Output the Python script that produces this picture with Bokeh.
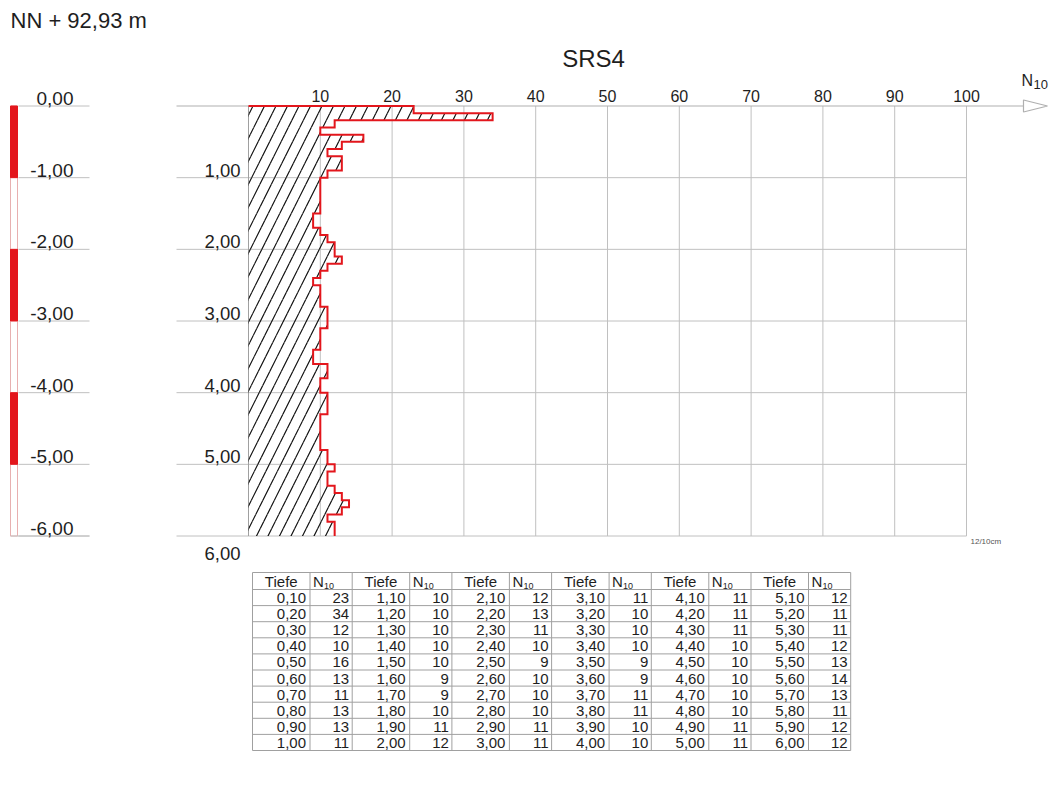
from bokeh.plotting import figure
from bokeh.models import Range1d
from bokeh.core.properties import value
from bokeh.embed import file_html
from bokeh.resources import INLINE

# ---------------- data ----------------
depth_bottom = [0.1, 0.2, 0.3, 0.4, 0.5, 0.6, 0.7, 0.8, 0.9, 1.0,
                1.1, 1.2, 1.3, 1.4, 1.5, 1.6, 1.7, 1.8, 1.9, 2.0,
                2.1, 2.2, 2.3, 2.4, 2.5, 2.6, 2.7, 2.8, 2.9, 3.0,
                3.1, 3.2, 3.3, 3.4, 3.5, 3.6, 3.7, 3.8, 3.9, 4.0,
                4.1, 4.2, 4.3, 4.4, 4.5, 4.6, 4.7, 4.8, 4.9, 5.0,
                5.1, 5.2, 5.3, 5.4, 5.5, 5.6, 5.7, 5.8, 5.9, 6.0]
n10 = [23, 34, 12, 10, 16, 13, 11, 13, 13, 11,
       10, 10, 10, 10, 10, 9, 9, 10, 11, 12,
       12, 13, 11, 10, 9, 10, 10, 10, 11, 11,
       11, 10, 10, 10, 9, 9, 11, 11, 10, 10,
       11, 11, 11, 10, 10, 10, 10, 10, 11, 11,
       12, 11, 11, 12, 13, 14, 13, 11, 12, 12]
x_ticks = [10, 20, 30, 40, 50, 60, 70, 80, 90, 100]
x_tick_labels = ["10", "20", "30", "40", "50", "60", "70", "80", "90", "100"]
depth_ticks = [1, 2, 3, 4, 5]
depth_tick_labels = ["1,00", "2,00", "3,00", "4,00", "5,00"]
elev_ticks = [0, 1, 2, 3, 4, 5, 6]
elev_labels = ["0,00", "-1,00", "-2,00", "-3,00", "-4,00", "-5,00", "-6,00"]
elev_red_segments = [(0, 1), (2, 3), (4, 5)]
title_text = "SRS4"
datum_text = "NN + 92,93 m"

# ---------------- layout mapping (reference pixels -> data) ----------------
FIG_W, FIG_H = 1058, 805
X0, X100 = 248.0, 966.0          # pixel of N10 = 0 and N10 = 100
Y0, Y6 = 105.5, 535.5            # pixel of depth 0 and depth 6
SX = (X100 - X0) / 100.0
SY = (Y6 - Y0) / 6.0


def X(px):
    return (px - X0) / SX


def Y(py):
    return (py - Y0) / SY


def DY(dpx):
    return dpx / SY


FONT = value("Liberation Sans")
TXT = "#1e1e1e"
GRID = "#c0c0c0"
RED = "#e3161c"

p = figure(width=FIG_W, height=FIG_H, output_backend="svg", toolbar_location=None,
           x_range=Range1d(X(0), X(FIG_W)), y_range=Range1d(Y(FIG_H), Y(0)),
           x_axis_location=None, y_axis_location=None, min_border=0)
p.grid.visible = False
p.outline_line_color = None
p.background_fill_color = "white"
p.border_fill_color = "white"

# ---------------- chart grid ----------------
p.segment(x0=x_ticks, x1=x_ticks, y0=[0] * len(x_ticks), y1=[6] * len(x_ticks),
          line_color=GRID, line_width=1)
p.segment(x0=[X(176)] * 6, x1=[100] * 6, y0=depth_ticks + [6], y1=depth_ticks + [6],
          line_color=GRID, line_width=1)
p.segment(x0=[0], x1=[0], y0=[0], y1=[6], line_color="#a0a0a0", line_width=1)
# top axis with arrow
p.segment(x0=[X(176)], x1=[X(1023)], y0=[0], y1=[0], line_color="#b0b0b0", line_width=1.2)
p.patch(x=[X(1023), X(1047), X(1023)], y=[Y(99.5), Y(105.5), Y(111.5)],
        fill_color="white", line_color="#b0b0b0", line_width=1.2)

# tick labels
p.text(x=x_ticks, y=[Y(95)] * len(x_ticks), text=x_tick_labels, text_font=FONT,
       text_font_size="16px", text_align="center", text_baseline="middle", text_color=TXT)
p.text(x=[X(240)] * 5, y=[d - DY(7.5) for d in depth_ticks], text=depth_tick_labels,
       text_font=FONT, text_font_size="18.5px", text_align="right", text_baseline="middle",
       text_color=TXT)
p.text(x=[X(240)], y=[Y(553)], text=["6,00"], text_font=FONT, text_font_size="18.5px",
       text_align="right", text_baseline="middle", text_color=TXT)
p.text(x=[X(1021)], y=[Y(80)], text=["N"], text_font=FONT, text_font_size="16px",
       text_align="left", text_baseline="middle", text_color=TXT)
p.text(x=[X(1033)], y=[Y(84)], text=["10"], text_font=FONT, text_font_size="13px",
       text_align="left", text_baseline="middle", text_color=TXT)
p.text(x=[X(970)], y=[Y(541)], text=["12/10cm"], text_font=FONT, text_font_size="8px",
       text_align="left", text_baseline="middle", text_color="#555555")

# ---------------- penetration diagram ----------------
depth_top = [0.0] + depth_bottom[:-1]
p.quad(left=[0] * len(n10), right=n10, top=depth_top, bottom=depth_bottom,
       fill_alpha=0, line_color=None, hatch_pattern="/", hatch_color="#111111",
       hatch_weight=1.2, hatch_scale=23)
sx, sy = [0], [0]
for t, b, v in zip(depth_top, depth_bottom, n10):
    sx += [v, v]
    sy += [t, b]
p.line(x=sx, y=sy, line_color=RED, line_width=2, line_join="miter")

# ---------------- elevation column ----------------
p.segment(x0=[X(18)] * len(elev_ticks), x1=[X(89)] * len(elev_ticks), y0=elev_ticks,
          y1=elev_ticks, line_color=GRID, line_width=1)
p.quad(left=[X(10)], right=[X(17)], top=[0], bottom=[6], fill_color="white",
       line_color="#e8b0b0", line_width=1)
p.quad(left=[X(10)] * 3, right=[X(17)] * 3, top=[s[0] for s in elev_red_segments],
       bottom=[s[1] for s in elev_red_segments], fill_color=RED, line_color=RED, line_width=1)
p.segment(x0=[X(10)], x1=[X(89)], y0=[6], y1=[6], line_color=GRID, line_width=1)
p.text(x=[X(73)] * len(elev_ticks), y=[e - DY(7.5) for e in elev_ticks],
       text=elev_labels, text_font=FONT, text_font_size="19px", text_align="right",
       text_baseline="middle", text_color=TXT)

# ---------------- titles ----------------
p.text(x=[X(10)], y=[Y(20)], text=[datum_text], text_font=FONT, text_font_size="22px",
       text_align="left", text_baseline="middle", text_color=TXT)
p.text(x=[X(593)], y=[Y(58)], text=[title_text], text_font=FONT, text_font_size="24px",
       text_align="center", text_baseline="middle", text_color=TXT)

# ---------------- table ----------------
T_LEFT, T_TOP = 252.0, 572.0
PAIR_W, TIEFE_W = 99.7, 57.5
HEAD_H, ROW_H = 17.0, 16.1
n_groups, n_rows = 6, 10
row_lines = [T_TOP, T_TOP + HEAD_H] + [T_TOP + HEAD_H + ROW_H * (r + 1) for r in range(n_rows)]
col_lines = []
for g in range(n_groups):
    col_lines += [T_LEFT + g * PAIR_W, T_LEFT + g * PAIR_W + TIEFE_W]
col_lines.append(T_LEFT + n_groups * PAIR_W)
TGRID = "#a0a0a0"
p.segment(x0=[X(T_LEFT)] * len(row_lines), x1=[X(col_lines[-1])] * len(row_lines),
          y0=[Y(r) for r in row_lines], y1=[Y(r) for r in row_lines], line_color=TGRID, line_width=1)
p.segment(x0=[X(c) for c in col_lines], x1=[X(c) for c in col_lines],
          y0=[Y(T_TOP)] * len(col_lines), y1=[Y(row_lines[-1])] * len(col_lines),
          line_color=TGRID, line_width=1)

head_y = Y(T_TOP + HEAD_H / 2 + 0.5)
hx, hy, ht = [], [], []
nx, ny, nt = [], [], []
sbx, sby = [], []
tx, ty, tt = [], [], []
vx, vy, vt = [], [], []
for g in range(n_groups):
    gl = T_LEFT + g * PAIR_W
    hx.append(X(gl + TIEFE_W / 2)); hy.append(head_y); ht.append("Tiefe")
    nx.append(X(gl + TIEFE_W + 3)); ny.append(head_y); nt.append("N")
    sbx.append(X(gl + TIEFE_W + 14)); sby.append(Y(T_TOP + HEAD_H - 4))
    for r in range(n_rows):
        i = g * n_rows + r
        cy = Y(T_TOP + HEAD_H + ROW_H * r + ROW_H / 2 + 0.5)
        tx.append(X(gl + TIEFE_W - 4)); ty.append(cy)
        tt.append(f"{depth_bottom[i]:.2f}".replace(".", ","))
        vx.append(X(gl + PAIR_W - 3)); vy.append(cy); vt.append(str(n10[i]))

p.text(x=hx, y=hy, text=ht, text_font=FONT, text_font_size="15px", text_align="center",
       text_baseline="middle", text_color=TXT)
p.text(x=nx, y=ny, text=nt, text_font=FONT, text_font_size="15px", text_align="left",
       text_baseline="middle", text_color=TXT)
p.text(x=sbx, y=sby, text=["10"] * n_groups, text_font=FONT, text_font_size="9px",
       text_align="left", text_baseline="middle", text_color=TXT)
p.text(x=tx, y=ty, text=tt, text_font=FONT, text_font_size="15px", text_align="right",
       text_baseline="middle", text_color=TXT)
p.text(x=vx, y=vy, text=vt, text_font=FONT, text_font_size="15px", text_align="right",
       text_baseline="middle", text_color=TXT)

open("out.html", "w").write(file_html(p, INLINE))
